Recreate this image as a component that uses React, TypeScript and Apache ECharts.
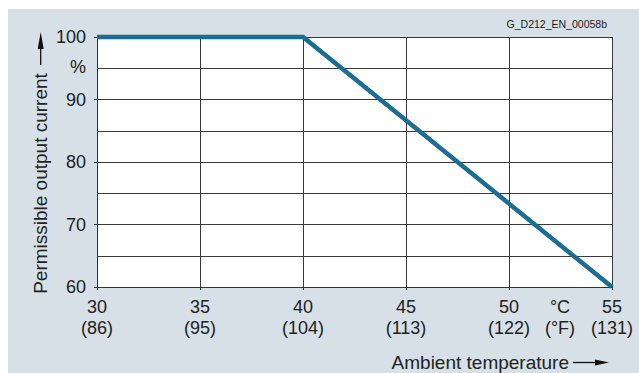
import React, { useEffect, useRef } from "react";
import * as echarts from "echarts";

const tempC = [30, 35, 40, 45, 50, 55];
const tempF = [86, 95, 104, 113, 122, 131];
const curveX = [30, 40, 55];
const curveY = [100, 100, 60];
const yTicks = [60, 70, 80, 90, 100];

const FONT = '"Liberation Sans", Arial, sans-serif';

export default function App() {
  const ref = useRef<HTMLDivElement>(null);
  useEffect(() => {
    if (!ref.current) return;
    const chart = echarts.init(ref.current, undefined, { renderer: "svg" });
    const fMap: Record<number, number> = {};
    tempC.forEach((c, i) => (fMap[c] = tempF[i]));
    chart.setOption({
      animation: false,
      backgroundColor: "#ffffff",
      textStyle: { fontFamily: FONT },
      graphic: [
        {
          type: "rect",
          z: -10,
          silent: true,
          shape: { x: 8, y: 9, width: 631, height: 364 },
          style: { fill: "#d6e0e6" },
        },
        {
          type: "text",
          x: 607,
          y: 24,
          style: {
            text: "G_D212_EN_00058b",
            font: `10.5px ${FONT}`,
            fill: "#222",
            align: "right",
            verticalAlign: "middle",
          },
        },
        {
          type: "text",
          x: 78,
          y: 67,
          style: {
            text: "%",
            font: `18px ${FONT}`,
            fill: "#222",
            align: "center",
            verticalAlign: "middle",
          },
        },
        {
          type: "text",
          x: 560,
          y: 307,
          style: {
            text: "°C",
            font: `18px ${FONT}`,
            fill: "#222",
            align: "center",
            verticalAlign: "middle",
          },
        },
        {
          type: "text",
          x: 560,
          y: 328,
          style: {
            text: "(°F)",
            font: `18px ${FONT}`,
            fill: "#222",
            align: "center",
            verticalAlign: "middle",
          },
        },
        {
          type: "text",
          x: 569,
          y: 362,
          style: {
            text: "Ambient temperature",
            font: `19px ${FONT}`,
            fill: "#222",
            align: "right",
            verticalAlign: "middle",
          },
        },
        {
          type: "line",
          shape: { x1: 573, y1: 362.5, x2: 597, y2: 362.5 },
          style: { stroke: "#111", lineWidth: 1.3 },
        },
        {
          type: "polygon",
          shape: { points: [[595, 359.5], [609, 362.5], [595, 365.5]] },
          style: { fill: "#111" },
        },
        {
          type: "text",
          x: 40,
          y: 183.5,
          rotation: Math.PI / 2,
          style: {
            text: "Permissible output current",
            font: `19px ${FONT}`,
            fill: "#222",
            align: "center",
            verticalAlign: "middle",
          },
        },
        {
          type: "line",
          shape: { x1: 40.7, y1: 47, x2: 40.7, y2: 65 },
          style: { stroke: "#111", lineWidth: 1.3 },
        },
        {
          type: "polygon",
          shape: { points: [[40.7, 32], [37.7, 49], [43.7, 49]] },
          style: { fill: "#111" },
        },
      ],
      grid: {
        left: 97,
        right: 27,
        top: 37,
        bottom: 86,
        show: true,
        backgroundColor: "#ffffff",
        borderWidth: 0,
      },
      xAxis: {
        type: "value",
        min: 30,
        max: 55,
        interval: 5,
        axisLine: { show: true, lineStyle: { color: "#333", width: 1 } },
        axisTick: { show: true, length: 3, lineStyle: { color: "#333" } },
        axisLabel: {
          margin: 9,
          fontSize: 18,
          fontFamily: FONT,
          color: "#222",
          lineHeight: 21,
          formatter: (v: number) => `${v}\n(${fMap[v]})`,
        },
        splitLine: { show: true, lineStyle: { color: "#3a3a3a", width: 1 } },
      },
      yAxis: {
        type: "value",
        min: 60,
        max: 100,
        interval: 10,
        axisLine: { show: true, lineStyle: { color: "#333", width: 1 } },
        axisTick: { show: true, length: 3, lineStyle: { color: "#333" } },
        axisLabel: {
          margin: 11,
          fontSize: 18,
          fontFamily: FONT,
          color: "#222",
          formatter: (v: number) => (yTicks.includes(v) ? String(v) : ""),
        },
        splitLine: { show: true, lineStyle: { color: "#3a3a3a", width: 1 } },
        minorTick: { show: false, splitNumber: 2 },
        minorSplitLine: { show: true, lineStyle: { color: "#3a3a3a", width: 1 } },
      },
      series: [
        {
          type: "line",
          data: curveX.map((x, i) => [x, curveY[i]]),
          symbol: "none",
          clip: false,
          lineStyle: { color: "#1b6d93", width: 4.5, cap: "butt", join: "miter" },
          z: 5,
        },
      ],
    });
    return () => chart.dispose();
  }, []);
  return (
    <div
      ref={ref}
      style={{ position: "fixed", left: 0, top: 0, width: 639, height: 373 }}
    />
  );
}
